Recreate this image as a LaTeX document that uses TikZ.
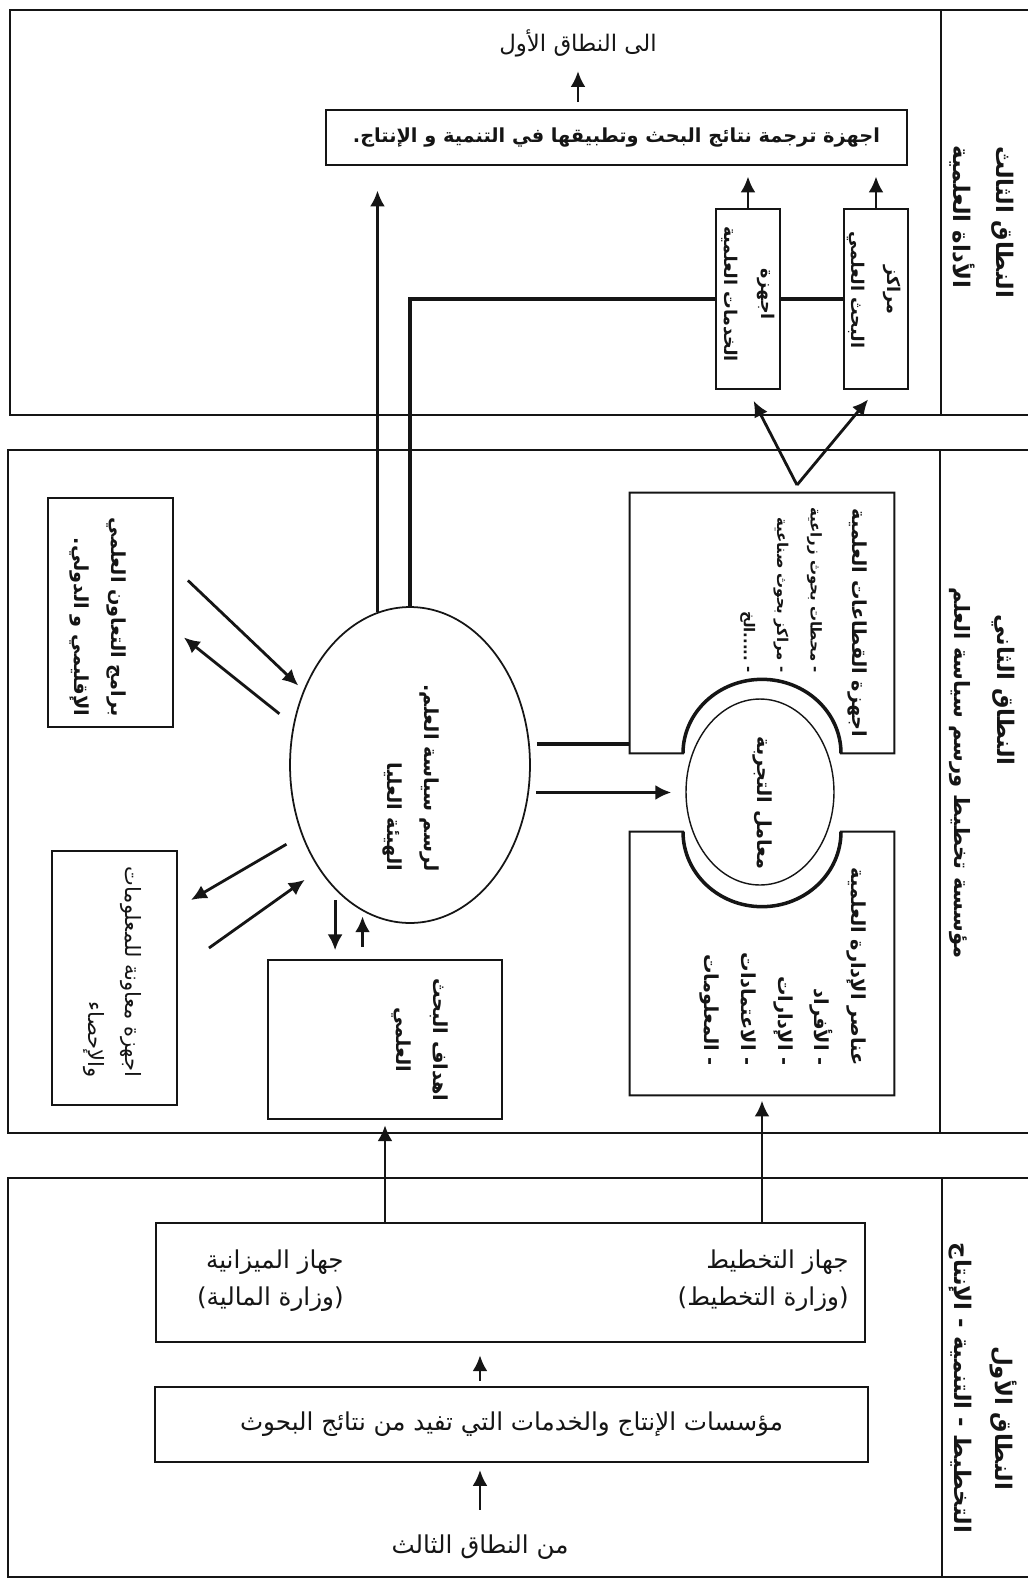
\documentclass[tikz,border=0pt]{standalone}
\usepackage{fontspec}
\usepackage{tikz}
\usetikzlibrary{calc}
\usetikzlibrary{shapes.geometric}
\usetikzlibrary{arrows.meta}
\TeXXeTstate=1
\newfontfamily\arabicfont[Script=Arabic]{DejaVu Sans}
\definecolor{inkcolor}{HTML}{151515}
\newcommand{\arl}[1]{\beginR #1\endR}% one arabic line
\tikzstyle{zone} = [draw=inkcolor, line width=1.1pt]
\tikzstyle{outline} = [draw=inkcolor, line width=1.1pt]
\tikzstyle{box} = [draw=inkcolor, line width=1.1pt, inner sep=0pt]
\tikzstyle{hole} = [inner sep=0pt]
\tikzstyle{htext} = [align=center, inner sep=0pt, text=inkcolor,
    font=\arabicfont\fontsize{14}{21}\selectfont]
\tikzstyle{hbold} = [align=center, inner sep=0pt, text=inkcolor,
    font=\arabicfont\bfseries\fontsize{11}{21}\selectfont]
\tikzstyle{vtext} = [rotate=-90, align=center, inner sep=0pt, text=inkcolor,
    font=\arabicfont\fontsize{12}{21}\selectfont]
\tikzstyle{vbold} = [rotate=-90, align=center, inner sep=0pt, text=inkcolor,
    font=\arabicfont\bfseries\fontsize{11}{21}\selectfont]
\tikzstyle{vsmall} = [rotate=-90, inner sep=0pt, text=inkcolor,
    font=\arabicfont\bfseries\fontsize{8.5}{19}\selectfont]
\tikzstyle{vzone} = [rotate=-90, inner sep=0pt, text=inkcolor,
    font=\arabicfont\bfseries\fontsize{13}{21}\selectfont]
\tikzstyle{arr} = [draw=inkcolor, line width=1.6pt, -{Latex[length=9pt,width=8.5pt]}]
\tikzstyle{link} = [draw=inkcolor, line width=2pt]

\begin{document}
\begin{tikzpicture}[x=0.02cm, y=-0.02cm]
\fill[white] (0,0) rectangle (1028,1583);
\useasboundingbox (0,0) rectangle (1028,1583);

% zone frames
\draw[zone] (1028,10) -- (10,10) -- (10,415) -- (1028,415);
\draw[zone] (941,10) -- (941,415);
\draw[zone] (1028,450) -- (8,450) -- (8,1133) -- (1028,1133);
\draw[zone] (940,450) -- (940,1133);
\draw[zone] (1028,1178) -- (8,1178) -- (8,1577) -- (1028,1577);
\draw[zone] (942,1178) -- (942,1577);

% zone labels
\node[vzone] (z3title) at (1003,222) {\arl{النطاق الثالث}};
\node[vzone] (z3sub) at (962,217) {\arl{الأداة العلمية}};
\node[vzone] (z2title) at (1003,690) {\arl{النطاق الثاني}};
\node[vzone, font=\arabicfont\bfseries\fontsize{12}{21}\selectfont] (z2sub) at (960,773) {\arl{مؤسسة تخطيط ورسم سياسة العلم}};
\node[vzone] (z1title) at (1003,1418) {\arl{النطاق الأول}};
\node[vzone] (z1sub) at (960,1388) {\arl{التخطيط - التنمية - الإنتاج}};

% third zone
\node[htext, font=\arabicfont\fontsize{13}{21}\selectfont] (toplbl) at (578,43) {\arl{الى النطاق الأول}};
\node[box, hbold, minimum width=11.62cm, minimum height=1.1cm] (tarjama) at (616.5,137.5)
    {\arl{اجهزة ترجمة نتائج البحث وتطبيقها في التنمية و الإنتاج.}};
\node[box, minimum width=1.28cm, minimum height=3.6cm] (svc) at (748,299) {};
\node[box, minimum width=1.28cm, minimum height=3.6cm] (res) at (876,299) {};
\node[vbold, font=\arabicfont\bfseries\fontsize{10}{21}\selectfont] (svctext) at (748,294) {\arl{اجهزة}\\\arl{الخدمات العلمية}};
\node[vbold, font=\arabicfont\bfseries\fontsize{10}{21}\selectfont] (restext) at (874,290) {\arl{مراكز}\\\arl{البحث العلمي}};
\draw[arr, shorten <=4pt, shorten >=8pt] (toplbl.south |- tarjama.north) -- (toplbl.south);
\draw[arr, shorten >=6pt] (svc.north) -- (svc.north |- tarjama.south);
\draw[arr, shorten >=6pt] (res.north) -- (res.north |- tarjama.south);

% second zone: the high council
\node[draw=inkcolor, line width=1pt, ellipse, inner sep=0pt,
    minimum width=4.8cm, minimum height=6.32cm] (hay) at (410,765) {};
\node[vbold, align=right] (haytext) at (411,778) {\arl{لرسم سياسة العلم.}\\\arl{الهيئة العليا}};
\draw[arr, shorten >=14pt] (hay.102) -- (hay.102 |- tarjama.south);
\draw[link] (hay.north) -- (hay.north |- svc.west) -- (svc.west);
\draw[link] (svc.east) -- (res.west);

% sectors and management, with the labs between
\node[hole, minimum width=5.28cm, minimum height=5.2cm] (qitaat) at (762,623) {};
\draw[outline] (qitaat.north west) -- (qitaat.north east) -- (qitaat.south east)
    -- ($(qitaat.south)+(79,0)$) arc[start angle=0, end angle=-180, x radius=79, y radius=74]
    -- (qitaat.south west) -- cycle;
\draw[link] ($(qitaat.south)+(79,0)$) arc[start angle=0, end angle=-180, x radius=79, y radius=74];
\node[hole, minimum width=5.28cm, minimum height=5.26cm] (anasir) at (762,963.5) {};
\draw[outline] (anasir.north west) -- ($(anasir.north)+(-79,0)$)
    arc[start angle=180, end angle=0, x radius=79, y radius=75]
    -- (anasir.north east) -- (anasir.south east) -- (anasir.south west) -- cycle;
\draw[link] ($(anasir.north)+(-79,0)$) arc[start angle=180, end angle=0, x radius=79, y radius=75];
\node[draw=inkcolor, line width=0.8pt, ellipse, inner sep=0pt,
    minimum width=2.96cm, minimum height=3.72cm] (maamel) at (760,792) {};
\node[vbold] (maameltext) at (762,803) {\arl{معامل التجربة}};
\node[vbold] (qtitle) at (857,623) {\arl{اجهزة القطاعات العلمية}};
\node[vsmall, align=right, anchor=east] (qitems) at (781,673)
    {\arl{- محطات بحوث زراعية}\\\arl{- مراكز بحوث صناعية}\\\arl{- .....الخ}};
\node[vbold, align=right, anchor=east] (anasirtext) at (783,1066)
    {\arl{عناصر الإدارة العلمية}\\\arl{- الأفراد}\\\arl{- الإدارات}\\\arl{- الاعتمادات}\\\arl{- المعلومات}};
\draw[link, shorten <=4pt] (hay.10) -- (hay.10 -| qitaat.west);
\draw[arr, shorten <=4pt, shorten >=8pt] (hay.-13) -- (hay.-13 -| maamel.west);
\coordinate (fork) at (797,485);
\draw[arr, shorten >=7pt] (fork) -- (svc.south);
\draw[arr, shorten >=7pt] (fork) -- (res.south);

% left side boxes
\node[box, minimum width=2.5cm, minimum height=4.58cm] (progs) at (110.5,612.5) {};
\node[vbold, align=right] (progstext) at (98,617) {\arl{برامج التعاون العلمي}\\\arl{الإقليمي و الدولي.}};
\draw[arr, shorten >=4pt] ($(progs.east)+(14,-32)$) -- (hay.145);
\draw[arr, shorten <=10pt] (hay.161) -- ($(progs.east)+(10,25)$);
\node[box, minimum width=2.5cm, minimum height=5.08cm] (info) at (114.5,978) {};
\node[vtext, align=right] (infotext) at (112,972) {\arl{اجهزة معاونة للمعلومات}\\\arl{والإحصاء}};
\draw[arr, shorten <=10pt] (hay.213) -- ($(info.east)+(13,-78)$);
\draw[arr, shorten >=10pt] ($(info.east)+(31,-30)$) -- (hay.229);

% research goals
\node[box, minimum width=4.68cm, minimum height=3.18cm] (ahdaf) at (385,1039.5) {};
\node[vbold] (ahdaftext) at (420,1040) {\arl{اهداف البحث}\\\arl{العلمي}};
\draw[arr, shorten <=6pt, shorten >=5pt] (hay.239) -- (hay.239 |- ahdaf.north);
\draw[arr, shorten <=7pt, shorten >=3pt] (hay.252 |- ahdaf.north) -- (hay.252);

% first zone
\node[box, minimum width=14.18cm, minimum height=2.38cm] (jihaz) at (510.5,1282.5) {};
\node[htext, align=right, anchor=east] (jplan) at (849,1281) {\arl{جهاز التخطيط}\\\arl{(وزارة التخطيط)}};
\node[htext, align=right, anchor=east] (jbudget) at (344,1281) {\arl{جهاز الميزانية}\\\arl{(وزارة المالية)}};
\draw[arr, shorten >=3pt] (ahdaf.south |- jihaz.north) -- (ahdaf.south);
\draw[arr, shorten >=3pt] (anasir.south |- jihaz.north) -- (anasir.south);
\node[box, htext, minimum width=14.26cm, minimum height=1.5cm] (muas) at (511.5,1424.5)
    {\arl{مؤسسات الإنتاج والخدمات التي تفيد من نتائج البحوث}};
\node[htext] (fromlbl) at (480,1547) {\arl{من النطاق الثالث}};
\draw[arr, shorten <=14pt, shorten >=4pt] (fromlbl.north) -- (fromlbl.north |- muas.south);
\draw[arr, shorten <=3pt, shorten >=7pt] (muas.north -| fromlbl) -- (jihaz.south -| fromlbl);
\end{tikzpicture}
\end{document}
